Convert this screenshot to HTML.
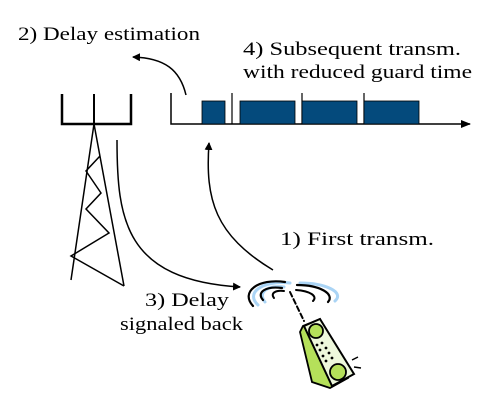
<!DOCTYPE html>
<html><head><style>
html,body{margin:0;padding:0;background:#fff;width:500px;height:412px;overflow:hidden}
</style></head><body>
<svg width="500" height="412" viewBox="0 0 500 412" xmlns="http://www.w3.org/2000/svg">
<defs><marker id="a" markerWidth="8" markerHeight="8" refX="7" refY="4" orient="auto" markerUnits="userSpaceOnUse"><path d="M0,0 L8,4 L0,8 z" fill="#000"/></marker>
<marker id="b" markerWidth="10" markerHeight="10" refX="9" refY="5" orient="auto" markerUnits="userSpaceOnUse"><path d="M0,1 L10,5 L0,9 z" fill="#000"/></marker></defs>
<g style="font-family:'Liberation Serif','Times New Roman','DejaVu Serif',serif" font-size="19" fill="#000" lengthAdjust="spacingAndGlyphs">
<text x="18" y="40" textLength="182" lengthAdjust="spacingAndGlyphs">2) Delay estimation</text>
<text x="243" y="55" textLength="218" lengthAdjust="spacingAndGlyphs">4) Subsequent transm.</text>
<text x="243" y="78" textLength="229" lengthAdjust="spacingAndGlyphs">with reduced guard time</text>
<text x="280" y="245" textLength="154" lengthAdjust="spacingAndGlyphs">1) First transm.</text>
<text x="145" y="306" textLength="84" lengthAdjust="spacingAndGlyphs">3) Delay</text>
<text x="120" y="330" textLength="123" lengthAdjust="spacingAndGlyphs">signaled back</text>
</g>
<g stroke="#000" fill="none">
<path d="M62,94V124H131V94" stroke-width="2.5"/>
<path d="M94,94V124" stroke-width="2"/>
<path d="M171,93V124H470" stroke-width="1.5" marker-end="url(#b)"/>
<path d="M232,93V124M302,93V124M364,93V124" stroke-width="1.2"/>
</g>
<g fill="#044a7c" stroke="#000" stroke-width="0.8">
<rect x="202" y="101" width="23" height="23"/>
<rect x="240" y="101" width="55" height="23"/>
<rect x="302" y="101" width="55" height="23"/>
<rect x="364" y="101" width="55" height="23"/>
</g>
<g stroke="#000" fill="none" stroke-width="1.5">
<path d="M94,124L71,280M94,124L124,286"/>
<path d="M100,156L86,171L101,193L86,209L109,233L71,256L124,286"/>
<path d="M117,140C117,220 125,280 240,287" marker-end="url(#a)"/>
<path d="M273,270C215,235 205,200 209,143" marker-end="url(#a)"/>
<path d="M186,95C180,70 165,58 133,57" marker-end="url(#a)"/>
</g>
<g stroke-linecap="round" fill="none">
<path d="M258,305C245,293 262,280 290,283" stroke="#aad4f5" stroke-width="3"/>
<path d="M253,306C240,292 258,278 285,282" stroke="#000" stroke-width="2.2"/>
<path d="M265,302C257,292 268,285 284,287" stroke="#aad4f5" stroke-width="3"/>
<path d="M263,300C256,292 266,286 282,288" stroke="#000" stroke-width="2.2"/>
<path d="M274,298C270,293 276,290 284,291" stroke="#000" stroke-width="2"/>
<path d="M300,283C325,283 345,292 335,301" stroke="#aad4f5" stroke-width="3"/>
<path d="M297,285C320,285 335,294 328,302" stroke="#000" stroke-width="2.2"/>
<path d="M296,290C310,291 318,296 313,301" stroke="#000" stroke-width="2"/>
<path d="M290,292L304,321" stroke="#000" stroke-width="2" stroke-dasharray="5,3"/>
</g>
<path d="M300,332L303,326L320,319L348,378L330,388L312,382Z" fill="#b5e05a" stroke="#000" stroke-width="1.8"/>
<path d="M304,326L320,319L354,374L332,386Z" fill="#eef8dc" stroke="#000" stroke-width="2"/>
<circle cx="316" cy="331" r="7" fill="#b5e05a" stroke="#000" stroke-width="1.8"/>
<circle cx="338" cy="372" r="8" fill="#b5e05a" stroke="#000" stroke-width="1.8"/>
<g fill="#000"><circle cx="317" cy="345" r="1.4"/><circle cx="322" cy="343" r="1.4"/><circle cx="320" cy="350" r="1.4"/><circle cx="326" cy="348" r="1.4"/><circle cx="323" cy="356" r="1.4"/><circle cx="329" cy="353" r="1.4"/><circle cx="326" cy="361" r="1.4"/><circle cx="332" cy="358" r="1.4"/></g>
<path d="M352,360l6,-3M354,367l7,1" stroke="#000" stroke-width="1.5"/>
</svg>
</body></html>
